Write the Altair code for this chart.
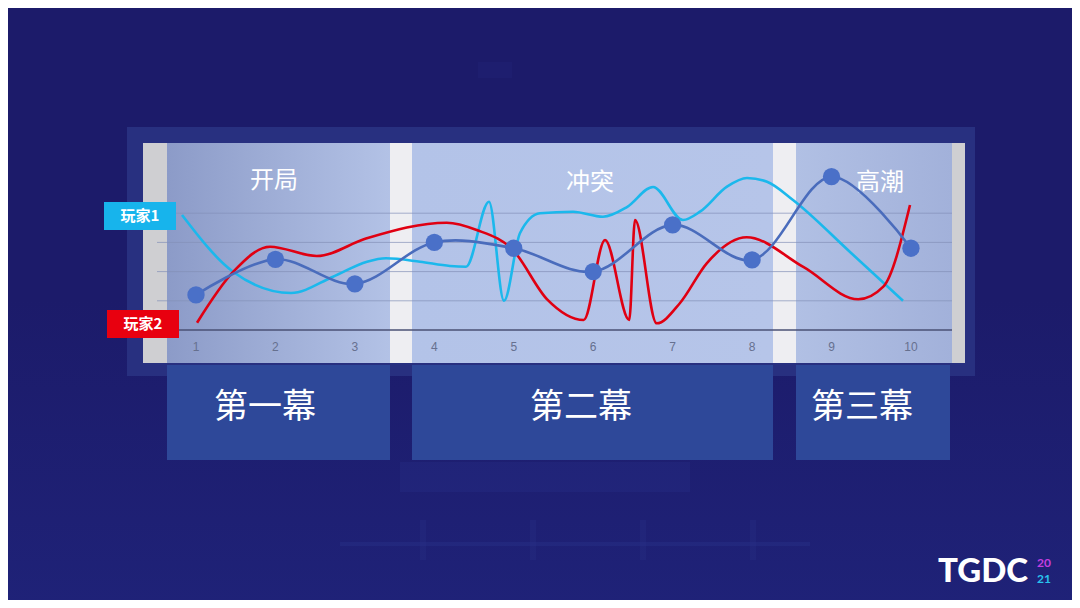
import altair as alt
import pandas as pd

# ---------------- data ----------------
acts = [1, 2, 3, 4, 5, 6, 7, 8, 9, 10]
tension = [1.20, 2.42, 1.58, 3.00, 2.80, 2.00, 3.60, 2.40, 5.25, 2.80]

p1_x = [0.824, 1.466, 2.196, 2.725, 3.153, 3.392, 3.820, 4.197, 4.399, 4.688, 4.877,
        5.079, 5.330, 5.746, 6.123, 6.425, 6.753, 7.130, 7.344, 7.684, 7.936, 8.188,
        8.515, 9.233, 9.900]
p1_y = [3.938, 1.997, 1.267, 1.825, 2.339, 2.455, 2.339, 2.192, 2.168, 4.394, 1.003,
        3.322, 3.997, 4.051, 3.880, 4.212, 4.897, 3.767, 4.051, 4.908, 5.205, 5.079,
        4.452, 2.671, 1.003]

p2_x = [1.013, 1.470, 1.932, 2.519, 3.149, 4.156, 4.533, 4.990, 5.420, 5.880,
        6.149, 6.454, 6.526, 6.799, 7.093, 7.429, 7.932, 8.650, 9.337, 9.652, 9.988]
p2_y = [0.250, 1.997, 2.853, 2.534, 3.140, 3.675, 3.425, 2.740, 1.050, 0.342,
        3.082, 0.342, 3.767, 0.229, 0.925, 2.284, 3.175, 2.150, 1.051, 1.483, 4.281]

section_titles = ["开局", "冲突", "高潮"]
act_names = ["第一幕", "第二幕", "第三幕"]
series_names = ["玩家1", "玩家2"]
grid_levels = [1, 2, 3, 4]

# ---------------- layout (reference pixels) ----------------
OFF = 8          # page margin
X0, STEP = 196.0, 79.44   # pixel of act 1, spacing per act
Y0, UNIT = 330.0, 29.2    # pixel of value 0, pixels per unit

X_SCALE = alt.Scale(domain=[1, 10], range=[X0 - OFF, X0 + 9 * STEP - OFF], nice=False, zero=False)
Y_SCALE = alt.Scale(domain=[0, 5], range=[Y0 - OFF, Y0 - 5 * UNIT - OFF], nice=False, zero=False)

FONT = "Noto Sans CJK SC"


def ux(px):
    return 1 + (px - X0) / STEP


def vy(py):
    return (Y0 - py) / UNIT


def X(f="x"):
    return alt.X(f + ":Q", scale=X_SCALE, axis=None)


def Y(f="y"):
    return alt.Y(f + ":Q", scale=Y_SCALE, axis=None)


def rects(rows, **mark):
    df = pd.DataFrame([{"x": ux(a), "x2": ux(b), "y": vy(c), "y2": vy(d)} for a, b, c, d in rows])
    return alt.Chart(df).mark_rect(**mark).encode(x=X(), x2="x2:Q", y=Y(), y2="y2:Q")


def texts(labels, xs, ys, **mark):
    df = pd.DataFrame({"t": labels, "x": xs, "y": ys})
    return alt.Chart(df).mark_text(**mark).encode(x=X(), y=Y(), text="t:N")


def hgrad(c1, c2):
    return alt.LinearGradient(gradient="linear", x1=0, x2=1, y1=0, y2=0,
                              stops=[alt.GradientStop(color=c1, offset=0),
                                     alt.GradientStop(color=c2, offset=1)])


layers = []

# faint background scenery
layers.append(rects([(0, 1080, 300, 608)], color=alt.LinearGradient(
    gradient="linear", x1=0, x2=0, y1=0, y2=1,
    stops=[alt.GradientStop(color="#1c1b6a", offset=0), alt.GradientStop(color="#1f2278", offset=1)])))
layers.append(rects([(400, 690, 462, 492)], color="#2b3590", opacity=0.25))
layers.append(rects([(340, 810, 542, 546)], color="#2d3791", opacity=0.3))
layers.append(rects([(420, 426, 520, 560), (530, 536, 520, 560), (640, 646, 520, 560),
                     (750, 756, 520, 560)], color="#2a3389", opacity=0.3))
layers.append(rects([(478, 512, 62, 78)], color="#25277a", opacity=0.3))

# frame behind the chart
layers.append(rects([(127, 975, 127, 376)], color="#283080"))
# gray side strips
layers.append(rects([(143, 167, 143, 363), (952, 965, 143, 363)], color="#cfcfd2"))
# section panels
layers.append(rects([(167, 390, 143, 363)], color=hgrad("#8c9bc8", "#b3c2e6")))
layers.append(rects([(412, 773, 143, 363)], color=hgrad("#b3c3e8", "#b6c5e9")))
layers.append(rects([(796, 952, 143, 363)], color=hgrad("#b1c0e4", "#a2b1da")))
# white gaps
layers.append(rects([(390, 412, 143, 363), (773, 796, 143, 363)], color="#eeeef2"))

# grid lines and baseline
gdf = pd.DataFrame({"y": grid_levels, "x": [ux(157)] * 4, "x2": [ux(952)] * 4})
layers.append(alt.Chart(gdf).mark_rule(color="#8390b8", strokeWidth=1, opacity=0.7)
              .encode(x=X(), x2="x2:Q", y=Y()))
bdf = pd.DataFrame({"y": [0], "x": [ux(157)], "x2": [ux(952)]})
layers.append(alt.Chart(bdf).mark_rule(color="#4a5174", strokeWidth=1.5)
              .encode(x=X(), x2="x2:Q", y=Y()))

# tick labels
layers.append(texts([str(a) for a in acts], acts, [vy(347)] * 10,
                    font="Liberation Sans", fontSize=12, color="#66708f", baseline="middle"))

# section titles
layers.append(texts(section_titles, [ux(274), ux(590), ux(880)], [vy(181), vy(183), vy(183)],
                    font=FONT, fontSize=24, color="#ffffff", baseline="middle"))

# series lines
layers.append(alt.Chart(pd.DataFrame({"x": p1_x, "y": p1_y})).mark_line(
    interpolate="monotone", color="#1bb8ec", strokeWidth=2.6).encode(x=X(), y=Y()))
layers.append(alt.Chart(pd.DataFrame({"x": p2_x, "y": p2_y})).mark_line(
    interpolate="monotone", color="#e00012", strokeWidth=2.6).encode(x=X(), y=Y()))
tdf = pd.DataFrame({"x": acts, "y": tension})
layers.append(alt.Chart(tdf).mark_line(interpolate="catmull-rom", color="#4a6cbc", strokeWidth=2.6)
              .encode(x=X(), y=Y()))
layers.append(alt.Chart(tdf).mark_circle(size=300, color="#4a70c8", opacity=1)
              .encode(x=X(), y=Y()))

# series label boxes
layers.append(rects([(104, 176, 202, 230)], color="#17b4ec"))
layers.append(rects([(107, 179, 310, 338)], color="#e8000f"))
layers.append(texts(series_names, [ux(140), ux(143)], [vy(216), vy(324)],
                    font=FONT, fontSize=15, fontWeight="bold", color="#ffffff", baseline="middle"))

# act boxes
layers.append(rects([(167, 390, 365, 460), (412, 773, 365, 460), (796, 950, 365, 460)],
                    color="#2e4899"))
layers.append(texts(act_names, [ux(265), ux(581), ux(862)], [vy(408)] * 3,
                    font=FONT, fontSize=34, color="#ffffff", baseline="middle"))

# logo
layers.append(texts(["TGDC"], [ux(983)], [vy(572)], font="Lato", fontSize=33,
                    fontWeight=900, color="#ffffff", baseline="middle"))
layers.append(texts(["20"], [ux(1044)], [vy(563)], font="Lato", fontSize=12,
                    fontWeight="bold", color="#c43ee0", baseline="middle"))
layers.append(texts(["21"], [ux(1044)], [vy(579)], font="Lato", fontSize=12,
                    fontWeight="bold", color="#28c4ee", baseline="middle"))

chart = alt.layer(*layers).properties(
    width=1064, height=592,
    autosize=alt.AutoSizeParams(type="none"),
    padding=0,
).configure(background="#1c1b6a").configure_view(stroke=None)

chart.save("out.html", embed_options={"renderer": "svg", "actions": False})
